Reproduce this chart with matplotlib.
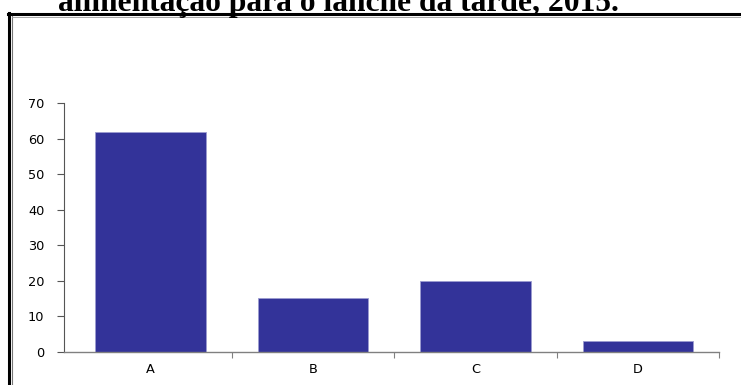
import matplotlib
matplotlib.use("Agg")
import matplotlib.pyplot as plt
from matplotlib.lines import Line2D

categories = ["A", "B", "C", "D"]
values = [62, 15, 20, 3]
y_ticks = [0, 10, 20, 30, 40, 50, 60, 70]
title = "alimentação para o lanche da tarde, 2015."

W, H = 741, 385
fig = plt.figure(figsize=(W / 100, H / 100), dpi=100)
fig.patch.set_facecolor("white")

def fx(px):
    return px / W

def fy(py):
    return 1 - py / H

# Frame around the chart: thick black outer border plus thin grey inner rule
fig.add_artist(Line2D([fx(9), fx(9)], [fy(13), fy(385)], color="black", lw=2.2, transform=fig.transFigure))
fig.add_artist(Line2D([fx(8), fx(741)], [fy(14), fy(14)], color="black", lw=2.2, transform=fig.transFigure))
fig.add_artist(Line2D([fx(12), fx(12)], [fy(16), fy(385)], color="#777777", lw=0.8, transform=fig.transFigure))
fig.add_artist(Line2D([fx(12), fx(741)], [fy(16.5), fy(16.5)], color="#999999", lw=0.6, transform=fig.transFigure))

# Heading, partly above the top edge of the figure
fig.text(fx(338.5), fy(11.5), title, ha="center", va="baseline",
         fontsize=22.7, fontweight="bold", family="Liberation Serif", color="black")

ax = fig.add_axes([fx(64), fy(351.7), fx(719) - fx(64), fy(103.3) - fy(351.7)])
x = list(range(len(categories)))
ax.bar(x, values, width=0.68, color="#333399", edgecolor="#9c9cd0", linewidth=0.6, zorder=2)

ax.set_xlim(-0.533, len(categories) - 0.5)
ax.set_ylim(0, 70)
ax.set_yticks(y_ticks)
ax.set_yticklabels([str(v) for v in y_ticks], fontsize=9.3, family="DejaVu Sans")

ax.set_xticks(x)
ax.set_xticklabels(categories, fontsize=9.3, family="DejaVu Sans")
ax.tick_params(axis="x", which="major", length=0, pad=8)
ax.set_xticks([i + 0.5 for i in x], minor=True)
ax.tick_params(axis="x", which="minor", length=4, width=0.8, color="#808080", direction="out")
ax.tick_params(axis="y", length=5, width=0.8, color="#555555", direction="out", pad=9)

for side in ("top", "right"):
    ax.spines[side].set_visible(False)
ax.spines["bottom"].set_color("#808080")
ax.spines["bottom"].set_linewidth(1.0)
ax.spines["left"].set_color("#555555")
ax.spines["left"].set_linewidth(0.8)
ax.spines["bottom"].set_zorder(3)

fig.savefig("out.png", dpi=100)
